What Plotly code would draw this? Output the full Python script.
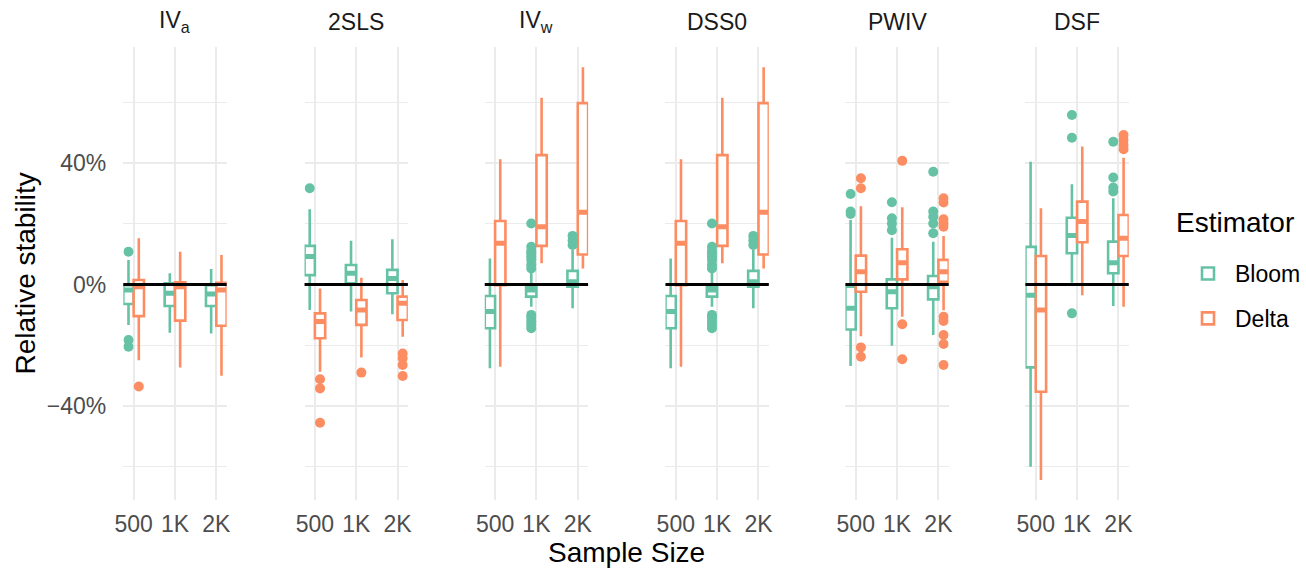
import plotly.graph_objects as go

# ---------------- data (percent) ----------------
panels = ["IV<sub>a</sub>", "2SLS", "IV<sub>w</sub>", "DSS0", "PWIV", "DSF"]
sizes = ["500", "1K", "2K"]
series = ["Bloom", "Delta"]
colors = {"Bloom": "#66c2a5", "Delta": "#fc8d62"}

bloom_lower = [[-13.3, -15.9, -16.1], [-8.4, -8.9, -9.8], [-27.6, -7.3, -7.8],
               [-27.6, -7.3, -7.8], [-26.8, -20.2, -16.6], [-60.0, 0.6, -7.1]]
bloom_q1 = [[-6.4, -7.1, -7.1], [3.1, 0.4, -2.9], [-14.4, -4.0, -0.7],
            [-14.4, -4.0, -0.7], [-14.8, -7.8, -4.9], [-27.3, 10.3, 3.7]]
bloom_median = [[-1.8, -2.9, -3.1], [9.2, 3.7, 2.0], [-8.9, -1.8, 0.9],
                [-8.9, -1.8, 0.9], [-7.8, -2.4, -0.7], [-3.5, 16.1, 7.2]]
bloom_q3 = [[-0.2, 0.4, -0.2], [12.7, 6.4, 4.8], [-3.8, -0.7, 4.5],
            [-3.8, -0.7, 4.5], [-0.7, 1.7, 2.8], [12.4, 22.0, 14.1]]
bloom_upper = [[8.1, 3.7, 5.1], [24.8, 14.4, 14.9], [8.6, 4.2, 11.4],
               [8.6, 4.2, 11.4], [21.2, 15.4, 14.1], [40.4, 33.0, 28.4]]
bloom_outliers = [
    [[10.8, -18.3, -20.5], [], []],
    [[31.7], [], []],
    [[], [20.1, 12.4, 11.0, 10.3, 9.2, 8.1, 6.5, 5.3, -10.0, -11.0, -12.2, -13.3, -14.4], [16.0, 14.5, 13.0]],
    [[], [20.1, 12.4, 11.0, 10.3, 9.2, 8.1, 6.5, 5.3, -10.0, -11.0, -12.2, -13.3, -14.4], [16.0, 14.5, 13.0]],
    [[29.8, 24.0, 23.2], [27.1, 21.8, 20.1, 17.9], [37.1, 24.0, 22.3, 20.1, 16.9]],
    [[], [55.8, 48.3, -9.5], [47.0, 35.2, 31.9, 30.6]],
]

delta_lower = [[-24.9, -27.3, -30.0], [-28.7, -24.0, -17.2], [-27.1, 7.0, 5.3],
               [-27.1, 7.0, 5.3], [-17.0, -10.6, -8.5], [-64.4, -3.5, -7.3]]
delta_q1 = [[-10.4, -11.9, -13.6], [-17.7, -13.3, -11.7], [-0.2, 12.7, 9.9],
            [-0.2, 12.7, 9.9], [-2.4, 1.7, 0.9], [-35.3, 13.9, 9.4]]
delta_median = [[-0.7, -0.7, -1.8], [-12.2, -8.4, -6.2], [13.6, 19.0, 23.8],
                [13.6, 19.0, 23.8], [4.2, 7.2, 4.2], [-8.4, 20.7, 15.2]]
delta_q3 = [[1.5, 0.7, 0.6], [-9.5, -5.1, -4.0], [20.9, 42.6, 59.7],
            [20.9, 42.6, 59.7], [9.5, 11.6, 8.1], [9.4, 27.3, 22.9]]
delta_upper = [[15.2, 10.8, 9.7], [-1.3, 2.2, 1.5], [41.2, 61.5, 71.5],
               [41.2, 61.5, 71.5], [25.8, 25.4, 16.0], [25.1, 45.4, 41.7]]
delta_outliers = [
    [[-33.6], [], []],
    [[-31.2, -34.2, -45.5], [-29.0], [-22.7, -24.3, -26.5, -30.1]],
    [[], [], []],
    [[], [], []],
    [[35.0, 31.7, -20.7, -23.8], [40.7, -13.1, -24.6], [28.4, 27.0, 21.5, 20.1, 19.0, -10.6, -12.0, -16.6, -19.6, -26.5]],
    [[], [], [49.2, 47.6, 45.9, 44.5]],
]

y_ticks = [-40, 0, 40]
y_ticktext = ["\u221240%", "0%", "40%"]
y_minor = [-60, -20, 20, 60]

stats = {
    "Bloom": (bloom_lower, bloom_q1, bloom_median, bloom_q3, bloom_upper, bloom_outliers),
    "Delta": (delta_lower, delta_q1, delta_median, delta_q3, delta_upper, delta_outliers),
}

# ---------------- layout geometry ----------------
W, H = 1306, 569
panel_left = [123.5, 305, 485.5, 666.5, 846.7, 1027]
panel_w = 103.5
panel_top, panel_bottom = 47, 500
dodge = {"Bloom": -0.125, "Delta": 0.125}
box_w = 0.25
FONT = "Liberation Sans, Arial, sans-serif"
GRID = "#ebebeb"
TXT = 23
TTL = 28

fig = go.Figure()
cat_pos = [1, 2, 3]

for p in range(len(panels)):
    ax = "" if p == 0 else str(p + 1)
    for s in series:
        lo, q1, md, q3, up, outl = stats[s]
        xs = [c + dodge[s] for c in cat_pos]
        fig.add_trace(go.Box(
            x=xs, q1=q1[p], median=md[p], q3=q3[p],
            lowerfence=lo[p], upperfence=up[p],
            width=box_w, whiskerwidth=0, boxpoints=False,
            fillcolor="white", line=dict(color=colors[s], width=2.6),
            name=s, legendgroup=s, showlegend=(p == 0),
            xaxis="x" + ax, yaxis="y" + ax, hoverinfo="skip",
        ))
        # thicker median bar (ggplot fatten)
        mx, my = [], []
        for k, c in enumerate(xs):
            mx += [c - box_w / 2 + 0.02, c + box_w / 2 - 0.02, None]
            my += [md[p][k], md[p][k], None]
        fig.add_trace(go.Scatter(
            x=mx, y=my, mode="lines", line=dict(color=colors[s], width=5),
            showlegend=False, legendgroup=s, xaxis="x" + ax, yaxis="y" + ax,
            hoverinfo="skip"))
        ox, oy = [], []
        for k, c in enumerate(xs):
            for v in outl[p][k]:
                ox.append(c)
                oy.append(v)
        fig.add_trace(go.Scatter(
            x=ox, y=oy, mode="markers",
            marker=dict(color=colors[s], size=10, line=dict(width=0)),
            showlegend=False, legendgroup=s, xaxis="x" + ax, yaxis="y" + ax,
            hoverinfo="skip"))

y_top_val = (284.5 - panel_top) / 3.0375
y_bot_val = (284.5 - panel_bottom) / 3.0375
ydom = [1 - panel_bottom / H, 1 - panel_top / H]

layout = dict(
    width=W, height=H, paper_bgcolor="white", plot_bgcolor="white",
    margin=dict(l=0, r=0, t=0, b=0), boxmode="overlay",
    font=dict(family=FONT, color="#1a1a1a"),
    legend=dict(
        font=dict(size=TXT, color="black", family=FONT),
        x=1183 / W, y=1 - 252 / H, xanchor="left", yanchor="top",
        itemwidth=44,
        tracegroupgap=12, traceorder="grouped", bgcolor="rgba(0,0,0,0)",
    ),
)

annotations = []
shapes = []
for p in range(len(panels)):
    ax = "" if p == 0 else str(p + 1)
    x0 = panel_left[p] / W
    x1 = (panel_left[p] + panel_w) / W
    layout["xaxis" + ax] = dict(
        domain=[x0, x1], range=[0.75, 3.25], anchor="y" + ax, automargin=False,
        tickvals=cat_pos, ticktext=sizes, ticks="", showline=False, zeroline=False,
        showgrid=True, gridcolor=GRID, gridwidth=2,
        tickfont=dict(size=TXT, color="#4d4d4d", family=FONT),
        ticklabelstandoff=8,
    )
    layout["yaxis" + ax] = dict(
        domain=ydom, range=[y_bot_val, y_top_val], anchor="x" + ax, automargin=False,
        tickvals=y_ticks, ticktext=y_ticktext, ticks="", showline=False,
        zeroline=False, showgrid=True, gridcolor=GRID, gridwidth=2,
        showticklabels=(p == 0),
        tickfont=dict(size=TXT, color="#4d4d4d", family=FONT),
        ticklabelstandoff=16,
        minor=dict(tickvals=y_minor, showgrid=True, gridcolor=GRID, gridwidth=1, ticks=""),
    )
    annotations.append(dict(
        text=panels[p], x=(x0 + x1) / 2, y=1 - 22 / H, xref="paper", yref="paper",
        xanchor="center", yanchor="middle", showarrow=False,
        font=dict(size=TXT, color="#1a1a1a", family=FONT)))
    shapes.append(dict(
        type="line", xref="x" + ax + " domain", yref="y" + ax,
        x0=0, x1=1, y0=0, y1=0, line=dict(color="black", width=2.8), layer="above"))

annotations.append(dict(
    text="Estimator", x=1176 / W, y=1 - 222 / H, xref="paper", yref="paper",
    xanchor="left", yanchor="middle", showarrow=False,
    font=dict(size=TTL, color="black", family=FONT)))
annotations.append(dict(
    text="Sample Size", x=(panel_left[0] + panel_left[-1] + panel_w) / 2 / W,
    y=1 - 552 / H, xref="paper", yref="paper", xanchor="center", yanchor="middle",
    showarrow=False, font=dict(size=TTL, color="black", family=FONT)))
annotations.append(dict(
    text="Relative stability", x=26 / W, y=1 - (panel_top + panel_bottom) / 2 / H,
    xref="paper", yref="paper", xanchor="center", yanchor="middle", textangle=-90,
    showarrow=False, font=dict(size=TTL, color="black", family=FONT)))

layout["annotations"] = annotations
layout["shapes"] = shapes
fig.update_layout(**layout)

fig.write_html("out.html", config={"displayModeBar": False},
               post_script="document.body.style.margin='0';")
